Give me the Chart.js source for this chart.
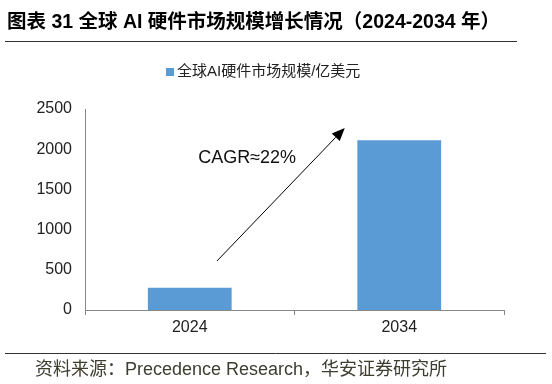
<!DOCTYPE html>
<html>
<head>
<meta charset="utf-8">
<script src="https://cdn.jsdelivr.net/npm/chart.js@4/dist/chart.umd.min.js"></script>
<style>
html,body{margin:0;padding:0;background:#fff;}
#wrap{width:552px;height:384px;position:relative;}
</style>
</head>
<body>
<div id="wrap"><canvas id="c" width="552" height="384"></canvas></div>
<script>
const titleText = '图表 31 全球 AI 硬件市场规模增长情况（2024-2034 年）';
const sourceText = '资料来源：Precedence Research，华安证券研究所';
const seriesName = '全球AI硬件市场规模/亿美元';
const categories = ['2024', '2034'];
const marketSize = [277, 2112];
const yTicks = [0, 500, 1000, 1500, 2000, 2500];
const cagrLabel = 'CAGR≈22%';
const arrowFrom = [0.13, 610];
const arrowTo = [0.74, 2265];
const cagrPos = [0.04, 1890];

const FONT = "'Liberation Sans', Arial, 'Noto Sans CJK SC', sans-serif";
const BAR = '#5B9BD5';

const decor = {
  id: 'decor',
  afterDraw(chart) {
    const ctx = chart.ctx;
    const xs = chart.scales.x, ys = chart.scales.y;
    ctx.save();
    // title
    ctx.fillStyle = '#000';
    ctx.font = "bold 19.5px " + FONT;
    ctx.textBaseline = 'middle';
    ctx.textAlign = 'left';
    ctx.fillText(titleText, 7, 23);
    ctx.strokeStyle = '#333';
    ctx.lineWidth = 1;
    ctx.beginPath(); ctx.moveTo(5, 41.5); ctx.lineTo(517, 41.5); ctx.stroke();
    // legend
    ctx.font = "15px " + FONT;
    ctx.fillStyle = BAR;
    ctx.fillRect(166, 68, 8, 8);
    ctx.fillStyle = '#222';
    ctx.fillText(seriesName, 177, 72);
    // source
    ctx.strokeStyle = '#333';
    ctx.beginPath(); ctx.moveTo(5, 353.5); ctx.lineTo(546, 353.5); ctx.stroke();
    ctx.fillStyle = '#3d3d30';
    ctx.font = "18px " + FONT;
    ctx.fillText(sourceText, 35, 370);
    // arrow
    const x1 = xs.getPixelForValue(arrowFrom[0]), y1 = ys.getPixelForValue(arrowFrom[1]);
    const x2 = xs.getPixelForValue(arrowTo[0]), y2 = ys.getPixelForValue(arrowTo[1]);
    const ang = Math.atan2(y2 - y1, x2 - x1);
    const hl = 13, hw = 5.5;
    const bx = x2 - hl * Math.cos(ang), by = y2 - hl * Math.sin(ang);
    ctx.strokeStyle = '#000';
    ctx.lineWidth = 1;
    ctx.beginPath(); ctx.moveTo(x1, y1); ctx.lineTo(bx, by); ctx.stroke();
    ctx.fillStyle = '#000';
    ctx.beginPath();
    ctx.moveTo(x2, y2);
    ctx.lineTo(bx + hw * Math.sin(ang), by - hw * Math.cos(ang));
    ctx.lineTo(bx - hw * Math.sin(ang), by + hw * Math.cos(ang));
    ctx.closePath(); ctx.fill();
    // CAGR label
    ctx.font = "18px " + FONT;
    ctx.fillStyle = '#111';
    ctx.textAlign = 'left';
    ctx.fillText(cagrLabel, xs.getPixelForValue(cagrPos[0]), ys.getPixelForValue(cagrPos[1]));
    ctx.restore();
  }
};

new Chart(document.getElementById('c'), {
  type: 'bar',
  data: {
    labels: categories,
    datasets: [{
      label: seriesName,
      data: marketSize,
      backgroundColor: BAR,
      borderWidth: 0,
      barPercentage: 0.4,
      categoryPercentage: 1.0
    }]
  },
  options: {
    responsive: false,
    animation: false,
    devicePixelRatio: 1,
    layout: { padding: { top: 109, left: 0, right: 48, bottom: 44 } },
    plugins: { legend: { display: false }, title: { display: false }, tooltip: { enabled: false } },
    scales: {
      x: {
        afterFit(s) { s.height = 30; },
        grid: { display: true, drawOnChartArea: false, drawTicks: true, tickLength: 5, color: '#888', offset: true },
        border: { display: true, color: '#888', width: 1 },
        ticks: { color: '#222', font: { family: FONT, size: 16 }, padding: 3 }
      },
      y: {
        min: 0, max: 2500,
        afterFit(s) { s.width = 85; },
        afterBuildTicks(s) { s.ticks = yTicks.map(v => ({ value: v })); },
        grid: { display: false, drawTicks: false },
        border: { display: true, color: '#888', width: 1 },
        ticks: { color: '#222', font: { family: FONT, size: 16 }, padding: 13, callback: v => String(v) }
      }
    }
  },
  plugins: [decor]
});
</script>
</body>
</html>
